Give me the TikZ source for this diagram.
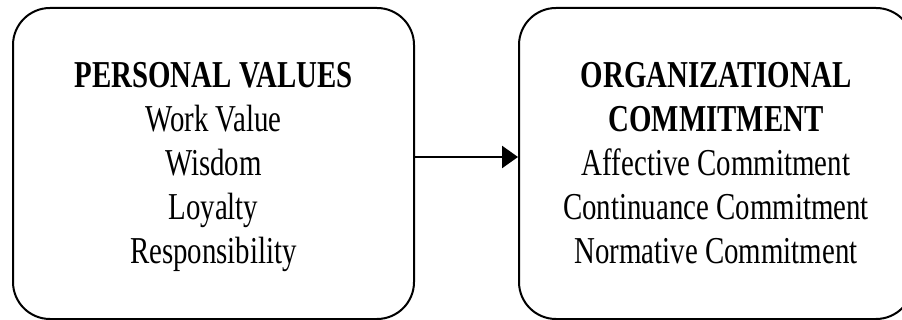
\documentclass[tikz,border=0pt]{standalone}
\usepackage{fontspec}
\setmainfont{Liberation Serif}[FakeStretch=0.76]
\usetikzlibrary{arrows.meta,positioning}

\begin{document}
\begin{tikzpicture}[x=1pt,y=-1pt,
	box/.style={draw, line width=2pt, rounded corners=37pt, minimum height=311pt, inner sep=0pt},
	txt/.style={align=center, inner sep=0pt, anchor=north, font=\fontsize{38pt}{44pt}\selectfont}]
	\def\gap{55.5pt};
	\useasboundingbox (0,0) rectangle (902,320);
	\clip (0,0) rectangle (902,320);
	\node[box, minimum width=401pt] (pv) at (213.5,163.5) {};
	\node[box, minimum width=394pt] (oc) at (716,163.5) {};
	\node[txt] (pvtxt) at ([yshift=-\gap]pv.north) {\textbf{PERSONAL VALUES}\\Work Value\\Wisdom\\Loyalty\\Responsibility};
	\node[txt] (octxt) at ([yshift=-\gap]oc.north) {\textbf{ORGANIZATIONAL}\\\textbf{COMMITMENT}\\Affective Commitment\\Continuance Commitment\\Normative Commitment};
	\draw[line width=2.5pt, -{Triangle[length=16pt,width=22pt]}] ([yshift=6.5pt]pv.east) -- ([yshift=6.5pt]oc.west);
\end{tikzpicture}
\end{document}
